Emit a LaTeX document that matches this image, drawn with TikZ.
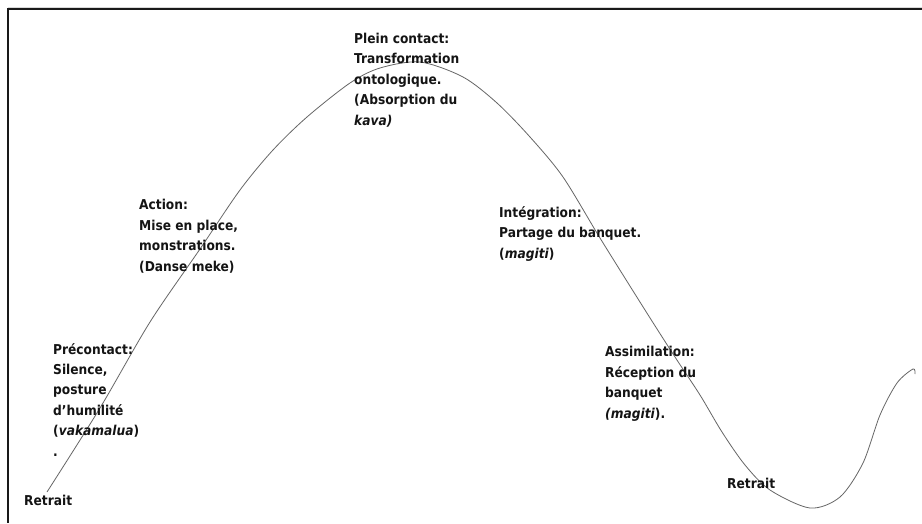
\documentclass[tikz,border=0pt]{standalone}
\usepackage{fontspec}
\setmainfont{DejaVu Sans Condensed}
\begin{document}
\begin{tikzpicture}[x=1pt,y=-1pt,
  lbl/.style={anchor=base west,align=left,inner sep=0pt,text=black!92,
    font=\bfseries\fontsize{13.6}{20.4}\selectfont},
  curve/.style={draw=black!60,line width=0.8pt}]
\useasboundingbox[fill=white] (0,0) rectangle (922,523);
\draw[black!15,line width=1pt] (8,7.5) -- (922,7.5);
\draw[black!90,line width=1.3pt] (922,9) -- (8,9) -- (8,523);
\draw[curve] plot[smooth,tension=0.5] coordinates {
 (47,492) (100,408) (150,322) (200,249) (240,190) (273,150) (307,117)
 (350,83) (380,68) (420,62) (463,77) (497,103) (530,137) (563,177)
 (600,238) (645,310) (675,357) (700,395) (722,432) (745,465) (770,490)
 (810,508) (840,497) (863,463) (880,415) (897,383) (913,369) (915,374)};
% base anchor = baseline of the last line
\node[lbl] (plein) at (354,125) {Plein contact:\\Transformation\\ontologique.\\(Absorption du\\\textit{kava)}};
\node[lbl] (action) at (139,271) {Action:\\Mise en place,\\monstrations.\\(Danse meke)};
\node[lbl] (precontact) at (53,456) {Précontact:\\Silence,\\posture\\d’humilité\\(\textit{vakamalua})\\.};
\node[lbl] (integration) at (499,258) {Intégration:\\Partage du banquet.\\(\textit{magiti})};
\node[lbl] (assimilation) at (605,418) {Assimilation:\\Réception du\\banquet\\\textit{(magiti}).};
\node[lbl] (retraitA) at (24,505) {Retrait};
\node[lbl] (retraitB) at (727,488) {Retrait};
\end{tikzpicture}
\end{document}
